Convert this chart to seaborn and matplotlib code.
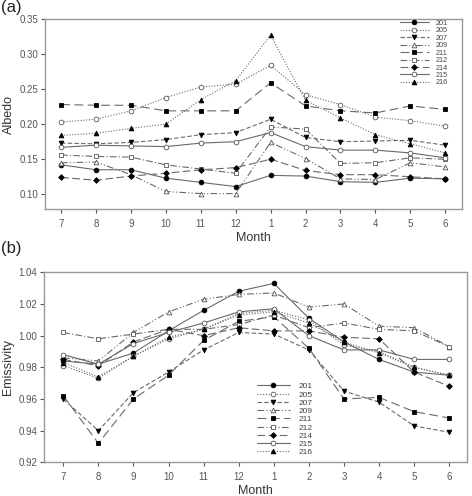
import numpy as np
import pandas as pd
import matplotlib
matplotlib.use("Agg")
import matplotlib.pyplot as plt
import seaborn as sns

# meses (julio -> junio)
months = ['7', '8', '9', '10', '11', '12', '1', '2', '3', '4', '5', '6']
stations = ['201', '205', '207', '209', '211', '212', '214', '215', '216']

# Albedo por estacion
alb_201 = [0.142, 0.135, 0.135, 0.123, 0.117, 0.111, 0.127, 0.126, 0.118, 0.117, 0.123, 0.122]
alb_205 = [0.203, 0.207, 0.219, 0.238, 0.253, 0.257, 0.284, 0.242, 0.228, 0.210, 0.205, 0.197]
alb_207 = [0.173, 0.172, 0.174, 0.178, 0.185, 0.188, 0.207, 0.181, 0.175, 0.176, 0.177, 0.170]
alb_209 = [0.145, 0.146, 0.128, 0.104, 0.101, 0.101, 0.174, 0.151, 0.122, 0.121, 0.145, 0.139]
alb_211 = [0.228, 0.227, 0.227, 0.219, 0.219, 0.219, 0.259, 0.226, 0.219, 0.216, 0.226, 0.221]
alb_212 = [0.156, 0.154, 0.153, 0.142, 0.136, 0.130, 0.196, 0.193, 0.144, 0.145, 0.152, 0.150]
alb_214 = [0.124, 0.120, 0.126, 0.130, 0.135, 0.138, 0.150, 0.134, 0.128, 0.128, 0.125, 0.122]
alb_215 = [0.167, 0.170, 0.169, 0.168, 0.173, 0.175, 0.188, 0.168, 0.163, 0.163, 0.159, 0.152]
alb_216 = [0.184, 0.187, 0.194, 0.200, 0.235, 0.262, 0.327, 0.234, 0.209, 0.185, 0.172, 0.159]

# Emisividad por estacion
emi_201 = [0.984, 0.982, 0.989, 1.003, 1.016, 1.028, 1.033, 1.011, 0.996, 0.985, 0.977, 0.975]
emi_205 = [0.981, 0.973, 0.987, 0.998, 1.004, 1.014, 1.016, 1.010, 0.994, 0.990, 0.980, 0.975]
emi_207 = [0.960, 0.940, 0.964, 0.977, 0.991, 1.002, 1.001, 0.991, 0.965, 0.958, 0.943, 0.939]
emi_209 = [0.986, 0.984, 1.002, 1.015, 1.023, 1.026, 1.027, 1.018, 1.020, 1.006, 1.005, 0.993]
emi_211 = [0.962, 0.932, 0.960, 0.975, 0.997, 1.009, 1.012, 0.992, 0.960, 0.961, 0.952, 0.948]
emi_212 = [1.002, 0.998, 1.001, 1.004, 1.004, 1.007, 1.013, 1.005, 1.008, 1.004, 1.003, 0.993]
emi_214 = [0.985, 0.981, 0.996, 1.004, 1.000, 1.005, 1.003, 1.003, 0.999, 0.998, 0.977, 0.968]
emi_215 = [0.988, 0.982, 0.995, 1.002, 1.008, 1.015, 1.017, 1.000, 0.991, 0.991, 0.985, 0.985]
emi_216 = [0.983, 0.974, 0.987, 0.999, 1.004, 1.013, 1.015, 1.008, 0.996, 0.989, 0.980, 0.975]

albedo = [alb_201, alb_205, alb_207, alb_209, alb_211, alb_212, alb_214, alb_215, alb_216]
emis = [emi_201, emi_205, emi_207, emi_209, emi_211, emi_212, emi_214, emi_215, emi_216]

# estilo de cada serie: marcador, relleno, linea
estilos = {
    '201': ('o', 'black', '-'),
    '205': ('o', 'white', (0, (1, 1.5))),
    '207': ('v', 'black', (0, (4, 2))),
    '209': ('^', 'white', (0, (6, 2, 1, 2, 1, 2))),
    '211': ('s', 'black', (0, (8, 4))),
    '212': ('s', 'white', (0, (6, 2, 1, 2))),
    '214': ('D', 'black', (0, (7, 3))),
    '215': ('o', 'white', '-'),
    '216': ('^', 'black', (0, (1, 1.5))),
}

sns.set_style("ticks")
plt.rcParams['font.family'] = ['Liberation Sans', 'DejaVu Sans']

fig = plt.figure(figsize=(4.72, 4.96), dpi=100)
ax1 = fig.add_axes([0.0953, 0.5786, 0.8835, 0.3831])
ax2 = fig.add_axes([0.0939, 0.0679, 0.8950, 0.3831])

gris = '#6a6a6a'


def dibujar(ax, series, ylim, yticks, xlim, ylabel, leg_anchor, leg_fs):
    for st, vals in zip(stations, series):
        df = pd.DataFrame({'x': np.arange(len(months)), 'y': vals})
        mk, fc, ls = estilos[st]
        ms = 2.9 if mk == 'D' else 3.4
        sns.lineplot(data=df, x='x', y='y', ax=ax, color=gris, linewidth=0.8,
                     linestyle=ls, marker=mk, markersize=ms, markerfacecolor=fc,
                     markeredgecolor='black' if fc == 'black' else '#555555',
                     markeredgewidth=0.6, label=st, legend=False)
    ax.set_xlim(*xlim)
    ax.set_ylim(*ylim)
    ax.set_xticks(np.arange(len(months)))
    ax.set_xticklabels(months)
    ax.set_yticks(yticks)
    ax.yaxis.set_major_formatter(matplotlib.ticker.FormatStrFormatter('%.2f'))
    ax.set_xlabel('Month', fontsize=9, color='#333333', labelpad=2)
    ax.set_ylabel(ylabel, fontsize=9, color='#333333', labelpad=3)
    for sp in ax.spines.values():
        sp.set_visible(True)
        sp.set_color('#999999')
        sp.set_linewidth(1.0)
    ax.tick_params(axis='both', labelsize=7, colors='#555555', length=3, width=0.8)
    ax.tick_params(axis='y', pad=2)
    ax.tick_params(axis='x', pad=4)
    ax.legend(loc='upper left', bbox_to_anchor=leg_anchor, frameon=False,
              fontsize=leg_fs, handlelength=4.0, handletextpad=1.0,
              labelspacing=0.05, borderpad=0, borderaxespad=0,
              labelcolor='#444444')


dibujar(ax1, albedo, (0.079, 0.35), [0.10, 0.15, 0.20, 0.25, 0.30, 0.35],
        (-0.46, 11.48), 'Albedo', (0.851, 0.995), 5.2)

dibujar(ax2, emis, (0.92, 1.04), [0.92, 0.94, 0.96, 0.98, 1.00, 1.02, 1.04],
        (-0.54, 11.5), 'Emissivity', (0.503, 0.42), 6.0)

fig.text(0.003, 1.0, '(a)', fontsize=12, color='#222222', va='top')
fig.text(0.003, 0.515, '(b)', fontsize=12, color='#222222', va='top')

fig.savefig('out.png', dpi=100)
